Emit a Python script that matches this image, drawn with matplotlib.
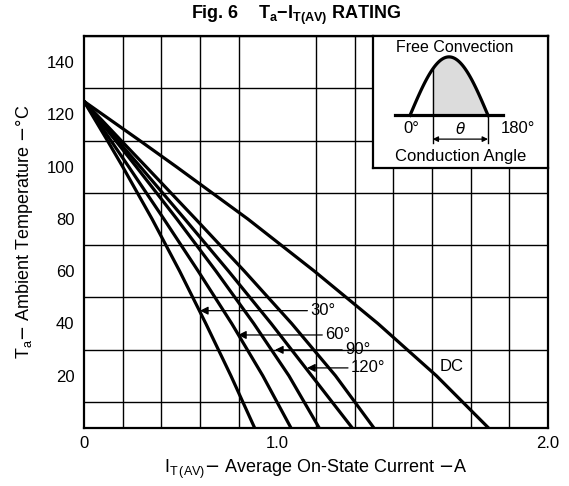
import numpy as np
import matplotlib
matplotlib.use("Agg")
import matplotlib.pyplot as plt

plt.rcParams['font.family'] = ['Liberation Sans', 'DejaVu Sans']

# temperature levels (degC) at which the curves were read
y_levels = [125, 110, 100, 80, 60, 40, 20, 0]

# average on-state current (A) at each level, one list per conduction angle
i_30 = [0, 0.121, 0.200, 0.352, 0.495, 0.630, 0.760, 0.883]
i_60 = [0, 0.139, 0.231, 0.413, 0.591, 0.764, 0.925, 1.071]
i_90 = [0, 0.163, 0.270, 0.480, 0.683, 0.878, 1.060, 1.217]
i_120 = [0, 0.174, 0.291, 0.521, 0.748, 0.968, 1.178, 1.388]
i_180 = [0, 0.192, 0.321, 0.577, 0.830, 1.074, 1.301, 1.500]
i_dc = [0, 0.288, 0.477, 0.847, 1.192, 1.520, 1.823, 2.093]

# labels: (text, arrow tip current, arrow tip temp, text current)
curve_labels = [("30°", 0.60, 44.9, 1.17),
                ("60°", 0.797, 35.6, 1.247),
                ("90°", 0.988, 29.9, 1.35),
                ("120°", 1.154, 23.0, 1.38)]

x_ticks = [0, 1.0, 2.4]
x_ticklabels = ["0", "1.0", "2.0"]
y_ticks = [20, 40, 60, 80, 100, 120, 140]

fig = plt.figure(figsize=(5.69, 4.86), dpi=100)
ax = fig.add_axes([0.1476, 0.1193, 0.8154, 0.8067])

ax.set_xlim(0, 2.4)
ax.set_ylim(0, 150)
ax.set_xticks(x_ticks)
ax.set_xticklabels(x_ticklabels, fontsize=12)
ax.set_yticks(y_ticks)
ax.set_yticklabels([str(v) for v in y_ticks], fontsize=12)
ax.set_xticks(np.arange(0, 2.41, 0.2), minor=True)
ax.set_yticks(np.arange(0, 151, 10), minor=True)
ax.tick_params(which='both', length=0)
ax.tick_params(axis='x', pad=6)
ax.tick_params(axis='y', pad=7)
ax.grid(which='minor', color='black', lw=1.0)
for s in ax.spines.values():
    s.set_linewidth(1.6)

for xs in [i_30, i_60, i_90, i_120, i_180, i_dc]:
    ax.plot(xs, y_levels, color='black', lw=2.3, solid_joinstyle='round')

for txt, xt, yt, xl in curve_labels:
    ax.annotate(txt, xy=(xt, yt), xytext=(xl, yt), fontsize=12,
                ha='left', va='center',
                arrowprops=dict(arrowstyle='-|>', color='black', lw=0.9,
                                mutation_scale=12, shrinkA=0, shrinkB=0,
                                relpos=(0, 0.5)))
ax.text(1.90, 23.7, "DC", fontsize=12, ha='center', va='center')

fig.text(0.52, 0.968, r"Fig. 6    $\mathregular{T_a{-}I_{T(AV)}}$ RATING",
         fontsize=13, fontweight='bold', ha='center', va='center')
ax.set_xlabel(r"$\mathregular{I_{T\,(AV)}}$$-$ Average On-State Current $-$A",
              fontsize=13, labelpad=5)
ax.set_ylabel(r"$\mathregular{T_a}$$-$ Ambient Temperature $-$°C",
              fontsize=13, labelpad=8)

# inset sketch of the conduction angle
ins = fig.add_axes([0.655, 0.654, 0.308, 0.2716])
ins.set_xlim(0, 1)
ins.set_ylim(0, 1)
ins.set_xticks([])
ins.set_yticks([])
for s in ins.spines.values():
    s.set_linewidth(1.6)
u = np.linspace(0.213, 0.658, 100)
v = 0.40 + 0.443 * np.sin(np.pi * (u - 0.213) / 0.445)
ins.plot(u, v, color='black', lw=2.3)
m = u >= 0.342
ins.fill_between(u[m], 0.40, v[m], color='#dcdcdc')
ins.plot([0.127, 0.743], [0.40, 0.40], color='black', lw=2.3)
v_start = 0.40 + 0.443 * np.sin(np.pi * (0.342 - 0.213) / 0.445)
ins.plot([0.342, 0.342], [0.19, v_start], color='black', lw=1.0)
ins.plot([0.658, 0.658], [0.19, 0.40], color='black', lw=1.0)
ins.annotate("", xy=(0.342, 0.22), xytext=(0.658, 0.22),
             arrowprops=dict(arrowstyle='<|-|>', color='black', lw=0.9,
                             mutation_scale=8, shrinkA=0, shrinkB=0))
ins.text(0.47, 0.915, "Free Convection", fontsize=11.5, ha='center', va='center')
ins.text(0.22, 0.30, "0°", fontsize=12, ha='center', va='center')
ins.text(0.50, 0.30, r"$\theta$", fontsize=11, ha='center', va='center')
ins.text(0.83, 0.30, "180°", fontsize=12, ha='center', va='center')
ins.text(0.50, 0.09, "Conduction Angle", fontsize=12, ha='center', va='center')

fig.savefig("out.png", dpi=100)
